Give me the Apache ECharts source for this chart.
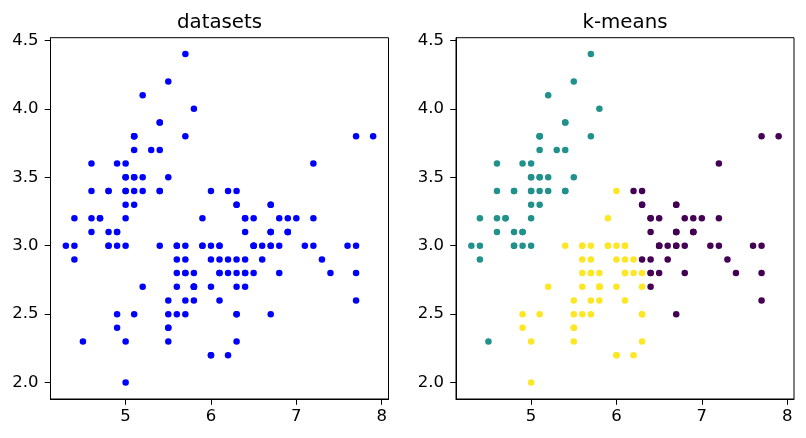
<!DOCTYPE html>
<html>
<head>
<meta charset="utf-8">
<script src="https://cdn.jsdelivr.net/npm/echarts@6/dist/echarts.min.js"></script>
<style>
html,body{margin:0;padding:0;background:#fff;}
#chart{width:806px;height:438px;}
</style>
</head>
<body>
<div id="chart"></div>
<script>
// Iris sepal length / sepal width
const sepalLength = [
5.1,4.9,4.7,4.6,5.0,5.4,4.6,5.0,4.4,4.9,5.4,4.8,4.8,4.3,5.8,5.7,5.4,5.1,5.7,5.1,5.4,5.1,4.6,5.1,4.8,5.0,5.0,5.2,5.2,4.7,4.8,5.4,5.2,5.5,4.9,5.0,5.5,4.9,4.4,5.1,5.0,4.5,4.4,5.0,5.1,4.8,5.1,4.6,5.3,5.0,
7.0,6.4,6.9,5.5,6.5,5.7,6.3,4.9,6.6,5.2,5.0,5.9,6.0,6.1,5.6,6.7,5.6,5.8,6.2,5.6,5.9,6.1,6.3,6.1,6.4,6.6,6.8,6.7,6.0,5.7,5.5,5.5,5.8,6.0,5.4,6.0,6.7,6.3,5.6,5.5,5.5,6.1,5.8,5.0,5.6,5.7,5.7,6.2,5.1,5.7,
6.3,5.8,7.1,6.3,6.5,7.6,4.9,7.3,6.7,7.2,6.5,6.4,6.8,5.7,5.8,6.4,6.5,7.7,7.7,6.0,6.9,5.6,7.7,6.3,6.7,7.2,6.2,6.1,6.4,7.2,7.4,7.9,6.4,6.3,6.1,7.7,6.3,6.4,6.0,6.9,6.7,6.9,5.8,6.8,6.7,6.7,6.3,6.5,6.2,5.9
];
const sepalWidth = [
3.5,3.0,3.2,3.1,3.6,3.9,3.4,3.4,2.9,3.1,3.7,3.4,3.0,3.0,4.0,4.4,3.9,3.5,3.8,3.8,3.4,3.7,3.6,3.3,3.4,3.0,3.4,3.5,3.4,3.2,3.1,3.4,4.1,4.2,3.1,3.2,3.5,3.6,3.0,3.4,3.5,2.3,3.2,3.5,3.8,3.0,3.8,3.2,3.7,3.3,
3.2,3.2,3.1,2.3,2.8,2.8,3.3,2.4,2.9,2.7,2.0,3.0,2.2,2.9,2.9,3.1,3.0,2.7,2.2,2.5,3.2,2.8,2.5,2.8,2.9,3.0,2.8,3.0,2.9,2.6,2.4,2.4,2.7,2.7,3.0,3.4,3.1,2.3,3.0,2.5,2.6,3.0,2.6,2.3,2.7,3.0,2.9,2.9,2.5,2.8,
3.3,2.7,3.0,2.9,3.0,3.0,2.5,2.9,2.5,3.6,3.2,2.7,3.0,2.5,2.8,3.2,3.0,3.8,2.6,2.2,3.2,2.8,2.8,2.7,3.3,3.2,2.8,3.0,2.8,3.0,2.8,3.8,2.8,2.8,2.6,3.0,3.4,3.1,3.0,3.1,3.1,3.1,2.7,3.2,3.3,3.0,2.5,3.0,3.4,3.0
];
// k-means cluster label per sample (0 = purple, 1 = teal, 2 = yellow)
const kmeansLabel = [
1,1,1,1,1,1,1,1,1,1,1,1,1,1,1,1,1,1,1,1,1,1,1,1,1,1,1,1,1,1,1,1,1,1,1,1,1,1,1,1,1,1,1,1,1,1,1,1,1,1,
0,0,0,2,0,2,0,2,0,2,2,2,2,2,2,0,2,2,2,2,2,2,2,2,0,0,0,0,2,2,2,2,2,2,2,2,0,2,2,2,2,2,2,2,2,2,2,2,2,2,
0,2,0,0,0,0,2,0,0,0,0,0,0,2,2,0,0,0,0,2,0,2,0,2,0,0,2,2,0,0,0,0,0,2,2,0,0,0,2,0,0,0,2,0,0,0,2,0,0,2
];
const clusterColors = ['#440154', '#21918c', '#fde725'];
const xTicks = [5, 6, 7, 8];
const yTicks = [2.0, 2.5, 3.0, 3.5, 4.0, 4.5];
const titles = ['datasets', 'k-means'];

const FONT = 'DejaVu Sans';
const chart = echarts.init(document.getElementById('chart'), null, {renderer: 'canvas'});

const grids = [
  {left: 50.5, top: 37.7, width: 338, height: 361.3},
  {left: 456, top: 37.7, width: 338, height: 361.3}
];

function xAxis(i) {
  return {
    type: 'value', gridIndex: i, min: 4.12, max: 8.08,
    splitLine: {show: false},
    axisLine: {show: true, onZero: false, lineStyle: {color: '#000', width: 1}},
    axisTick: {show: true, customValues: xTicks, length: 5.8, lineStyle: {color: '#000', width: 1}},
    axisLabel: {customValues: xTicks, color: '#000', fontFamily: FONT, fontSize: 16.5, margin: 9,
      formatter: v => String(v)}
  };
}
function yAxis(i) {
  return {
    type: 'value', gridIndex: i, min: 1.88, max: 4.52,
    splitLine: {show: false},
    axisLine: {show: true, onZero: false, lineStyle: {color: '#000', width: 1}},
    axisTick: {show: true, customValues: yTicks, length: 5.8, lineStyle: {color: '#000', width: 1}},
    axisLabel: {customValues: yTicks, color: '#000', fontFamily: FONT, fontSize: 16.5, margin: 12,
      formatter: v => v.toFixed(1)}
  };
}

const allPoints = sepalLength.map((x, i) => [x, sepalWidth[i]]);
const clusteredPoints = sepalLength.map((x, i) => ({
  value: [x, sepalWidth[i]],
  itemStyle: {color: clusterColors[kmeansLabel[i]]}
}));

chart.setOption({
  animation: false,
  backgroundColor: '#fff',
  title: titles.map((t, i) => ({
    text: t,
    left: grids[i].left + grids[i].width / 2,
    textAlign: 'center',
    top: 13,
    padding: 0,
    textStyle: {fontFamily: FONT, fontSize: 19.8, fontWeight: 'normal', color: '#000'}
  })),
  grid: grids.map(g => Object.assign({show: true, borderColor: '#000', borderWidth: 1, backgroundColor: 'transparent'}, g)),
  xAxis: [xAxis(0), xAxis(1)],
  yAxis: [yAxis(0), yAxis(1)],
  series: [
    {type: 'scatter', xAxisIndex: 0, yAxisIndex: 0, symbol: 'circle', symbolSize: 6.5,
      itemStyle: {color: '#0000ff', opacity: 1}, data: allPoints},
    {type: 'scatter', xAxisIndex: 1, yAxisIndex: 1, symbol: 'circle', symbolSize: 6.5,
      itemStyle: {opacity: 1}, data: clusteredPoints}
  ]
});
</script>
</body>
</html>
